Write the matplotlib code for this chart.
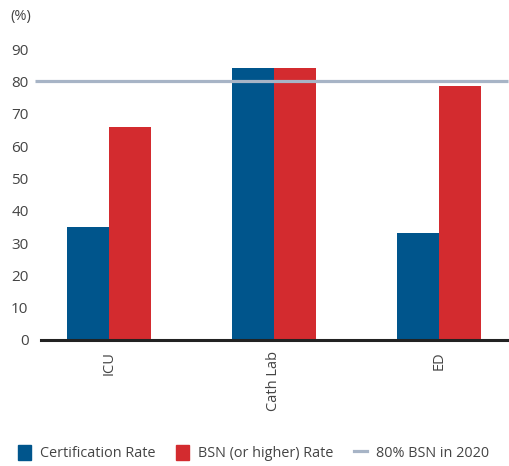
import numpy as np
import matplotlib.pyplot as plt
from matplotlib.patches import Patch
from matplotlib.lines import Line2D

plt.rcParams.update({
    "font.family": ["Open Sans", "DejaVu Sans"],
    "font.size": 10,
})

units = ["ICU", "Cath Lab", "ED"]
certification_rate = [35, 84, 33]
bsn_rate = [66, 84, 78.5]
bsn_goal = 80

blue = "#00558c"
red = "#d32b2f"
goal_color = "#a7b4c6"
text_color = "#444444"

fig = plt.figure(figsize=(5.09, 4.66), dpi=100)
ax = fig.add_axes([0.0806, 0.2704, 0.9154, 0.6244])

x = np.arange(len(units))
width = 0.255
ax.bar(x - width / 2, certification_rate, width, color=blue)
ax.bar(x + width / 2, bsn_rate, width, color=red)
# goal line runs slightly past the left edge of the plot
ax.plot([-0.448, 2.418], [bsn_goal, bsn_goal], color=goal_color, linewidth=2.3,
        zorder=3, clip_on=False, solid_capstyle="butt")

ax.set_xlim(-0.412, 2.412)
ax.set_ylim(0, 90)
ax.set_yticks(np.arange(0, 91, 10))
ax.set_xticks(x)
ax.set_xticklabels(units, rotation=90, color=text_color, fontsize=10.5)
ax.tick_params(axis="y", length=0, pad=9, labelsize=11, labelcolor=text_color)
ax.tick_params(axis="x", length=0, pad=8)

for side in ["top", "right", "left"]:
    ax.spines[side].set_visible(False)
ax.spines["bottom"].set_linewidth(2.2)
ax.spines["bottom"].set_color("#222222")

fig.text(0.02, 0.965, "(%)", color=text_color, fontsize=10.5, va="center")

handles = [
    Patch(color=blue, label="Certification Rate"),
    Patch(color=red, label="BSN (or higher) Rate"),
    Line2D([0], [0], color=goal_color, linewidth=2.3, label="80% BSN in 2020"),
]
leg = fig.legend(handles=handles, loc="lower left", bbox_to_anchor=(0.012, -0.015),
                 ncol=3, frameon=False, fontsize=10.4, handlelength=0.95,
                 handleheight=1.2, handletextpad=0.6, columnspacing=1.4,
                 borderpad=0.3)
for t in leg.get_texts():
    t.set_color(text_color)

fig.savefig("out.png", dpi=100)
